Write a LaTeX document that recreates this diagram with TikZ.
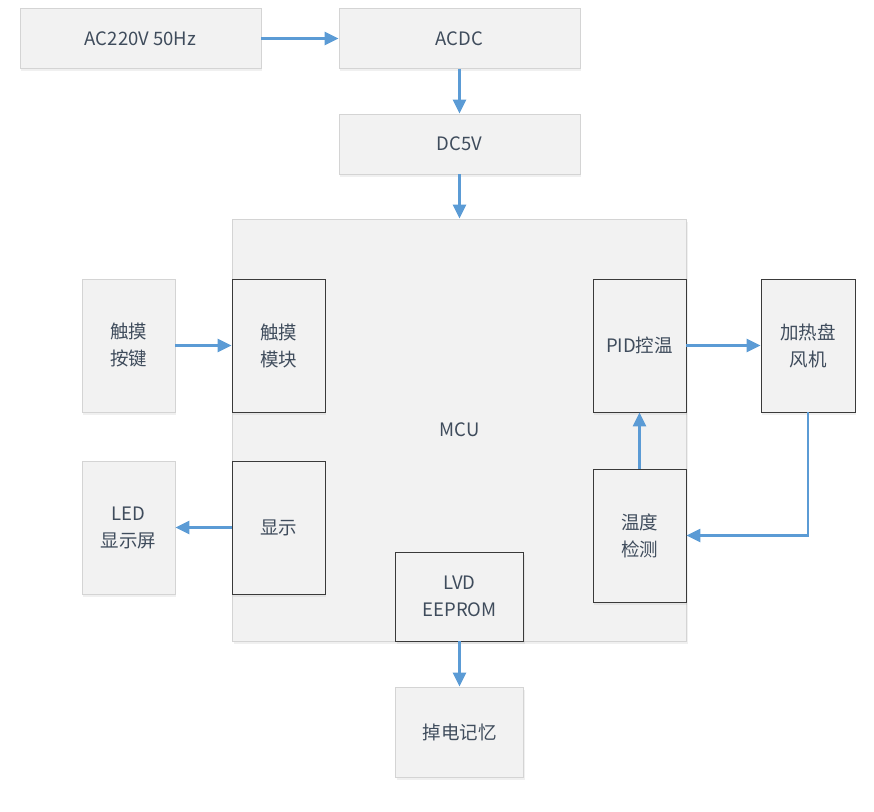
\documentclass[tikz,border=0pt]{standalone}
\usepackage{fontspec}
\setmainfont{Noto Sans CJK SC}
\usetikzlibrary{arrows.meta, positioning, shadows}
\definecolor{boxfill}{HTML}{F2F2F2}
\definecolor{boxline}{HTML}{D4D4D4}
\definecolor{darkline}{HTML}{3A3A3A}
\definecolor{arrowblue}{HTML}{5B9BD5}
\definecolor{txt}{HTML}{3F4C5C}
\tikzset{
  box/.style={draw=boxline, line width=0.9pt, fill=boxfill, text=txt, align=center,
    minimum width=#1, font=\fontsize{18.5}{27}\selectfont,
    drop shadow={opacity=0.12, shadow xshift=1pt, shadow yshift=-2.5pt}},
  box/.default=241pt,
  inbox/.style={box=93pt, draw=darkline, minimum height=133pt},
  arr/.style={-{Triangle[length=14pt, width=13pt]}, draw=arrowblue, line width=2.5pt},
}
\begin{document}
\begin{tikzpicture}[x=1pt, y=-1pt]
  \useasboundingbox (0,0) rectangle (874,811);
  % power supply chain
  \node[box, minimum height=60pt] (ac) at (140.5,38.5) {AC220V 50Hz};
  \node[box, minimum height=60pt] (acdc) at (459.5,38.5) {ACDC};
  \node[box, minimum height=60pt] (dc) at (459.5,144) {DC5V};
  % controller
  \node[box=454pt, minimum height=422pt] (mcu) at (459.5,430) {MCU};
  \node[inbox] (touchmod) at (278.5,345.5) {触摸\\模块};
  \node[inbox] (disp) at (278.5,527.5) {显示};
  \node[inbox] (pid) at (639.5,345.5) {PID控温};
  \node[inbox] (temp) at (639.5,535.5) {温度\\检测};
  \node[box=128pt, draw=darkline, minimum height=89pt] (lvd) at (459.5,596.5) {LVD\\EEPROM};
  % outside parts
  \node[box=93pt, minimum height=133pt] (key) at (128.5,345.5) {触摸\\按键};
  \node[box=93pt, minimum height=133pt] (led) at (128.5,527.5) {LED\\显示屏};
  \node[box=94pt, draw=darkline, minimum height=133pt] (heat) at (808,345.5) {加热盘\\风机};
  \node[box=128pt, minimum height=90pt] (mem) at (459.5,732) {掉电记忆};
  % connectors
  \draw[arr] (ac) -- (acdc);
  \draw[arr] (acdc) -- (dc);
  \draw[arr] (dc) -- (mcu);
  \draw[arr] (key) -- (touchmod);
  \draw[arr] (disp) -- (led);
  \draw[arr] (temp) -- (pid);
  \draw[arr] (pid) -- (heat);
  \draw[arr] (heat.south) |- (temp.east);
  \draw[arr] (lvd) -- (mem);
\end{tikzpicture}
\end{document}
